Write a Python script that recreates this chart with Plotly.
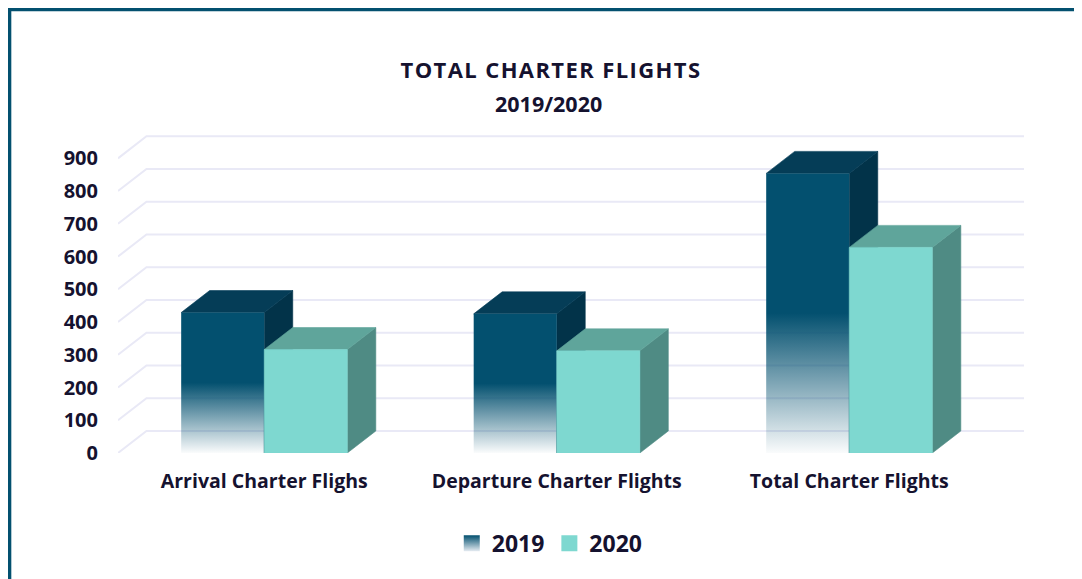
import plotly.graph_objects as go

# ---------------- data ----------------
categories = ["Arrival Charter Flighs", "Departure Charter Flights", "Total Charter Flights"]
series_names = ["2019", "2020"]
values_2019 = [429, 425, 854]
values_2020 = [316, 312, 628]
y_ticks = [0, 100, 200, 300, 400, 500, 600, 700, 800, 900]
title_line1 = "TOTAL CHARTER FLIGHTS"
title_line2 = "2019/2020"

# ---------------- layout geometry / style ----------------
OFF = 8                        # page body margin of the html page
W, H = 1082 - OFF, 579 - OFF
PX_PER_X = 878.0 / 3.0         # pixels per category
PX_PER_Y = 294.4 / 900.0       # pixels per flight
DX_PX, DY_PX = 28.5, 22.0      # 3D depth offset in pixels
ML = 118 - OFF
AXIS_BOTTOM = 452.7 - OFF
MT = 100
MB = H - AXIS_BOTTOM
PLOT_H = AXIS_BOTTOM - MT
PLOT_W = 3 * PX_PER_X + DX_PX
MR = W - ML - PLOT_W

DX = DX_PX / PX_PER_X
DY = DY_PX / PX_PER_Y
X_RANGE = [-0.5, 2.5 + DX]
Y_MAX = PLOT_H / PX_PER_Y
BAR_W = 0.284

FONT = "Open Sans"
TXT = "#15122f"
GRID = "#e9e9f6"

C19 = dict(front="#03506F", top="#053D57", side="#023349")
C20 = dict(front="#7ED8D0", top="#5FA59B", side="#4F8B84")

fig = go.Figure()

# ---------------- 3D gridlines (floor diagonal + back wall) ----------------
gx, gy = [], []
for v in y_ticks:
    gx += [-0.5, -0.5 + DX, 2.5 + DX, None]
    gy += [v, v + DY, v + DY, None]
fig.add_trace(go.Scatter(x=gx, y=gy, mode="lines", line=dict(color=GRID, width=2),
                         hoverinfo="skip", showlegend=False, cliponaxis=False))


def poly(xs, ys, color):
    return go.Scatter(x=xs + [xs[0]], y=ys + [ys[0]], mode="lines", fill="toself",
                      fillcolor=color, line=dict(color=color, width=0.6),
                      hoverinfo="skip", showlegend=False)


def add_box(x0, x1, v, colors, gradient=False):
    fig.add_trace(poly([x1, x1 + DX, x1 + DX, x1], [0, DY, v + DY, v], colors["side"]))
    fig.add_trace(poly([x0, x1, x1 + DX, x0 + DX], [v, v, v + DY, v + DY], colors["top"]))
    if gradient:
        fig.add_trace(go.Scatter(
            x=[x0, x1, x1, x0, x0], y=[0, 0, v, v, 0], mode="lines", fill="toself",
            line=dict(width=0, color="rgba(0,0,0,0)"),
            fillgradient=dict(type="vertical", start=0, stop=v,
                              colorscale=[[0, "rgba(3,80,111,0.02)"],
                                          [0.5, "rgba(3,80,111,1)"],
                                          [1, "rgba(3,80,111,1)"]]),
            hoverinfo="skip", showlegend=False))
    else:
        fig.add_trace(poly([x0, x1, x1, x0], [0, 0, v, v], colors["front"]))


for i, cat in enumerate(categories):
    add_box(i - BAR_W, i, values_2019[i], C19, gradient=True)
    add_box(i, i + BAR_W, values_2020[i], C20)

# ---------------- legend keys ----------------
fig.add_trace(go.Scatter(x=[None], y=[None], mode="markers", name=series_names[0],
                         marker=dict(symbol="square", size=16, color=C19["front"],
                                     gradient=dict(type="vertical", color="#e6ecf2"),
                                     line=dict(width=0))))
fig.add_trace(go.Scatter(x=[None], y=[None], mode="markers", name=series_names[1],
                         marker=dict(symbol="square", size=16, color=C20["front"],
                                     line=dict(width=0))))


def px2paper_x(px):
    return (px - OFF - ML) / PLOT_W


def px2paper_y(py):
    return (AXIS_BOTTOM - (py - OFF)) / PLOT_H


def px2cont_x(px):
    return (px - OFF) / W


def px2cont_y(py):
    return 1 - (py - OFF) / H


# ---------------- frame ----------------
fig.add_shape(type="rect", xref="paper", yref="paper",
              x0=px2paper_x(9), x1=px2paper_x(1140), y0=px2paper_y(660), y1=px2paper_y(9),
              line=dict(color="#03506F", width=4.5), fillcolor="rgba(0,0,0,0)", layer="below")

# second title line
fig.add_annotation(text=title_line2, xref="paper", yref="paper",
                   x=px2paper_x(548.5), y=px2paper_y(103.5), xanchor="center", yanchor="middle",
                   showarrow=False, font=dict(family=FONT, size=21.5, color=TXT, weight="bold"))

fig.update_layout(
    width=W, height=H,
    margin=dict(l=ML, r=MR, t=MT, b=MB, autoexpand=False),
    paper_bgcolor="white", plot_bgcolor="white",
    title=dict(text='<span style="letter-spacing:1.4px">' + title_line1 + '</span>',
               xref="container", x=px2cont_x(551),
               xanchor="center", yref="container", y=px2cont_y(70), yanchor="middle",
               font=dict(family=FONT, size=22, color=TXT, weight="bold")),
    xaxis=dict(range=X_RANGE, tickvals=[0, 1, 2], ticktext=categories,
               showgrid=False, zeroline=False, showline=False,
               ticks="outside", ticklen=11, tickcolor="rgba(0,0,0,0)",
               tickfont=dict(family=FONT, size=19.5, color=TXT, weight="bold"), fixedrange=True),
    yaxis=dict(range=[0, Y_MAX], tickvals=y_ticks, showgrid=False, zeroline=False,
               showline=False, ticks="outside", ticklen=15, tickcolor="rgba(0,0,0,0)",
               tickfont=dict(family=FONT, size=20, color=TXT, weight="bold"), fixedrange=True),
    showlegend=True,
    legend=dict(orientation="h", x=px2paper_x(550), xanchor="center",
                y=px2paper_y(543), yanchor="middle",
                font=dict(family=FONT, size=23, color=TXT, weight="bold"),
                itemwidth=30, bgcolor="rgba(0,0,0,0)"),
)

fig.write_html("out.html")
